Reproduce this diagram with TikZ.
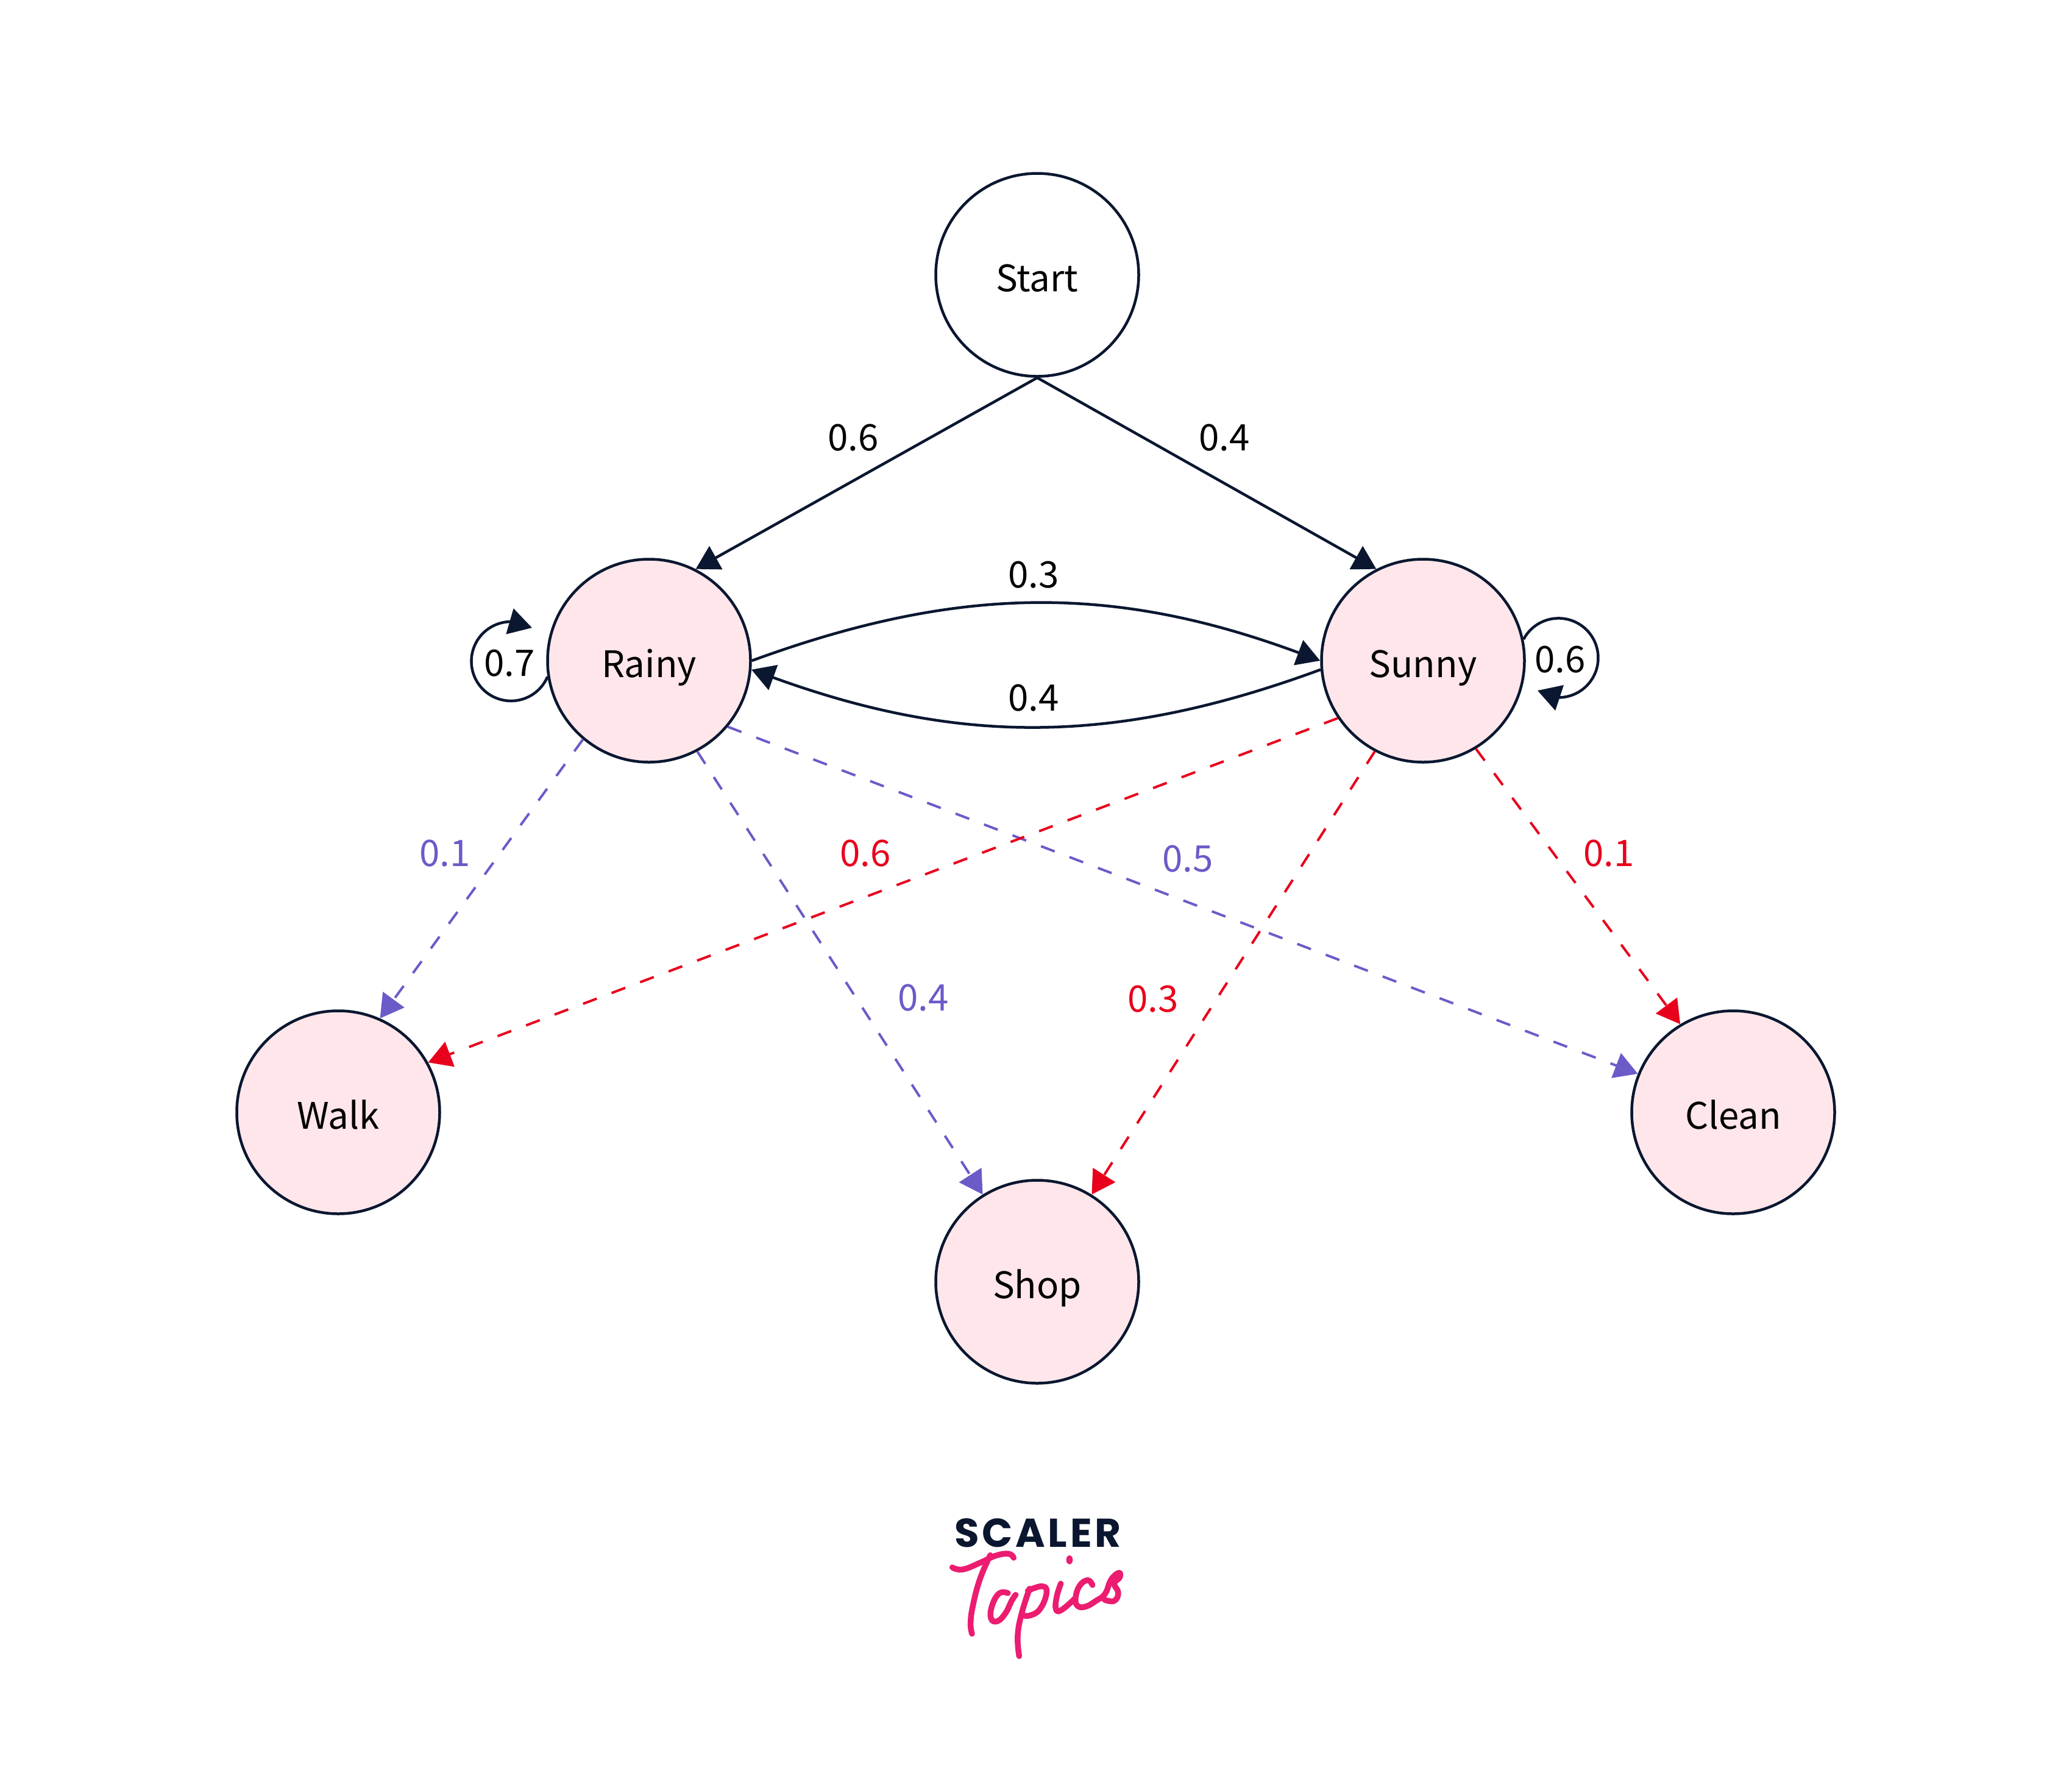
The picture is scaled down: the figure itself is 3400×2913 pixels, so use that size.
\documentclass[tikz,border=0pt]{standalone}
\usepackage{fontspec}
\setmainfont{Noto Sans CJK JP}
\newfontfamily\logofont[LetterSpace=7]{Poppins Bold}
\usetikzlibrary{arrows.meta,calc}
\definecolor{navy}{HTML}{0B1730}
\definecolor{statepink}{HTML}{FEE6EA}
\definecolor{emitblue}{HTML}{6A5BC8}
\definecolor{emitred}{HTML}{E8001C}
\definecolor{logopink}{HTML}{EC1C70}
\tikzset{
  x=1pt,y=1pt,
  tipstyle/.style={-{Triangle[length=38pt,width=43pt]}},
  statebase/.style={circle,draw=navy,line width=4.5pt,minimum size=333pt,inner sep=0pt,text=black,text height=54pt,text depth=0pt,font=\fontsize{60}{70}\selectfont},
  hidden/.style={statebase,fill=statepink},
  plainstate/.style={statebase,fill=white},
  edgeline/.style={draw=navy,line width=4.5pt,tipstyle},
  blueline/.style={draw=emitblue,line width=4pt,tipstyle,dash pattern=on 24pt off 26pt},
  redline/.style={draw=emitred,line width=4pt,tipstyle,dash pattern=on 24pt off 26pt},
  problabel/.style={inner sep=0pt,font=\fontsize{60}{70}\selectfont},
  logostroke/.style={draw=logopink,line width=9.5pt,line cap=round,line join=round},
  logocurve/.style={smooth,tension=0.75},
}
\begin{document}
\begin{tikzpicture}
\useasboundingbox[fill=white] (0,0) rectangle (3400,-2913);
% nodes
\node[plainstate] (start) at (1702,-451) {Start};
\node[hidden] (rainy) at (1065,-1084) {Rainy};
\node[hidden] (sunny) at (2335,-1084) {Sunny};
\node[hidden] (walk) at (555,-1825) {Walk};
\node[hidden] (shop) at (1702,-2103) {Shop};
\node[hidden] (clean) at (2844,-1825) {Clean};
% self loops
\coordinate (rainylooptip) at (873,-1030);
\coordinate (sunnylooptip) at (2523,-1133);
\draw[edgeline] (rainy.189) arc[start angle=-23,end angle=-270,radius=65] -- (rainylooptip);
\draw[edgeline] (sunny.12) arc[start angle=152,end angle=-90,radius=65] -- (sunnylooptip);
% black edges
\draw[edgeline] (start.south) -- (rainy.63);
\draw[edgeline] (start.south) -- (sunny.117);
\draw[edgeline] (rainy.0) .. controls (1575,-959) and (1829,-959) .. (sunny.180);
\draw[edgeline] (sunny.185) .. controls (1829,-1223) and (1575,-1223) .. (rainy.355);
% emissions
\draw[blueline] (rainy.230) -- (walk.66);
\draw[blueline] (rainy.298) -- (shop.122);
\draw[blueline] (rainy.320) -- (clean.158.5);
\draw[redline] (sunny.214.6) -- (walk.29);
\draw[redline] (sunny.242.7) -- (shop.58.5);
\draw[redline] (sunny.301) -- (clean.121);
% labels
\node[problabel] (l1) at (1400,-718) {0.6};
\node[problabel] (l2) at (2009,-718) {0.4};
\node[problabel] (l3) at (1696,-943) {0.3};
\node[problabel] (l4) at (1696,-1145) {0.4};
\node[problabel] (l5) at (836,-1088) {0.7};
\node[problabel] (l6) at (2560,-1082) {0.6};
\node[problabel,text=emitblue] (l7) at (730,-1400) {0.1};
\node[problabel,text=emitblue] (l8) at (1515,-1637) {0.4};
\node[problabel,text=emitblue] (l9) at (1949,-1409) {0.5};
\node[problabel,text=emitred] (l10) at (1420,-1400) {0.6};
\node[problabel,text=emitred] (l11) at (1892,-1639) {0.3};
\node[problabel,text=emitred] (l12) at (2640,-1400) {0.1};
% logo
\node[inner sep=0pt,text=navy,font=\fontsize{66}{70}\logofont] (scaler) at (1703,-2515) {SCALER};
\begin{scope}[shift={(1500,-2450)},x=0.3333pt,y=-0.3333pt]
\draw[logostroke] plot[logocurve] coordinates {(188,365) (240,375) (330,340) (400,308) (465,298) (490,318)};
\draw[logostroke] plot[logocurve] coordinates {(375,305) (325,420) (290,550) (278,640) (285,692)};
\draw[logostroke] plot[logocurve] coordinates {(462,492) (420,492) (385,550) (378,615) (410,630) (450,590) (480,530) (500,500)};
\draw[logostroke] plot[logocurve] coordinates {(568,470) (530,590) (510,700) (517,802)};
\draw[logostroke] plot[logocurve] coordinates {(560,480) (630,458) (652,490) (620,570) (570,602) (535,600)};
\draw[logostroke] plot[logocurve] coordinates {(722,445) (702,510) (698,570) (725,575) (790,520)};
\draw[logostroke] plot[logocurve] coordinates {(878,452) (855,428) (815,455) (795,515) (805,555) (845,558) (895,530) (940,495) (970,425) (1008,392) (1012,415) (985,445) (1005,490) (985,530) (938,525)};
\fill[logopink] (765,328) ellipse[x radius=16,y radius=22];
\end{scope}
\end{tikzpicture}
\end{document}
